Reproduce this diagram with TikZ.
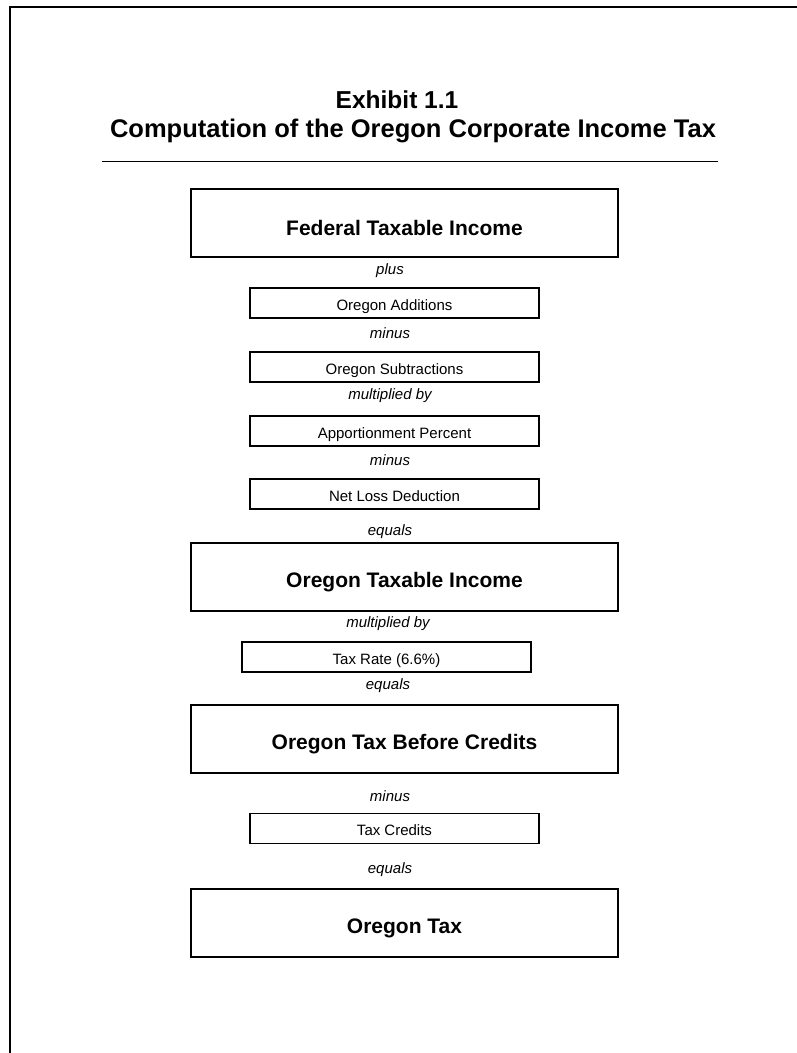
\documentclass[tikz,border=0pt]{standalone}
\usepackage{fontspec}
\setmainfont{Liberation Sans}
\usepackage{tikz}

\tikzset{
  bigbox/.style={draw, line width=2pt, minimum width=427pt, minimum height=68pt,
    inner sep=0pt, text height=26pt, text depth=5pt,
    font=\bfseries\fontsize{21}{25}\selectfont},
  smallbox/.style={draw, line width=1.6pt, minimum width=289pt, minimum height=30pt,
    inner sep=0pt, text height=18pt, text depth=3.2pt,
    font=\fontsize{15}{18}\selectfont},
  oplabel/.style={inner sep=0pt, font=\itshape\fontsize{15}{18}\selectfont},
  headline/.style={inner sep=0pt, font=\bfseries\fontsize{25}{28}\selectfont}
}

\begin{document}
\begin{tikzpicture}[x=1pt,y=-1pt]
    \useasboundingbox (0,0) rectangle (797,1053);
    % page frame
    \draw[line width=1.5pt] (10,1053) -- (10,7) -- (797,7);

    \node[headline, font=\bfseries\fontsize{24.5}{28}\selectfont] (exhibit) at (397,100) {Exhibit 1.1};
    \node[headline, font=\bfseries\fontsize{25.5}{28}\selectfont] (title) at (413,131)
      {Computation of the Oregon Corporate Income Tax};
    \draw[line width=1.2pt] (102,161.5) -- (718,161.5);

    \node[bigbox, text height=30pt] (fed) at (404.5,222.5) {Federal Taxable Income};
    \node[oplabel] (plus) at (390,271) {plus};
    \node[smallbox] (add) at (394.5,303) {Oregon Additions};
    \node[oplabel] (minusa) at (390,333) {minus};
    \node[smallbox] (sub) at (394.5,367) {Oregon Subtractions};
    \node[oplabel] (multa) at (390,396) {multiplied by};
    \node[smallbox] (appt) at (394.5,431) {Apportionment Percent};
    \node[oplabel] (minusb) at (390,460) {minus};
    \node[smallbox] (nol) at (394.5,494) {Net Loss Deduction};
    \node[oplabel] (equalsa) at (390,532) {equals};

    \node[bigbox] (oti) at (404.5,576.5) {Oregon Taxable Income};
    \node[oplabel] (multb) at (388,624) {multiplied by};
    \node[smallbox] (rate) at (386.5,657) {Tax Rate (6.6\%)};
    \node[oplabel] (equalsb) at (388,686) {equals};

    \node[bigbox] (before) at (404.5,739) {Oregon Tax Before Credits};
    \node[oplabel] (minusc) at (390,796) {minus};
    \node[smallbox] (cred) at (394.5,828.5) {Tax Credits};
    \node[oplabel] (equalsc) at (390,870) {equals};

    \node[bigbox] (tax) at (404.5,923) {Oregon Tax};
\end{tikzpicture}
\end{document}
